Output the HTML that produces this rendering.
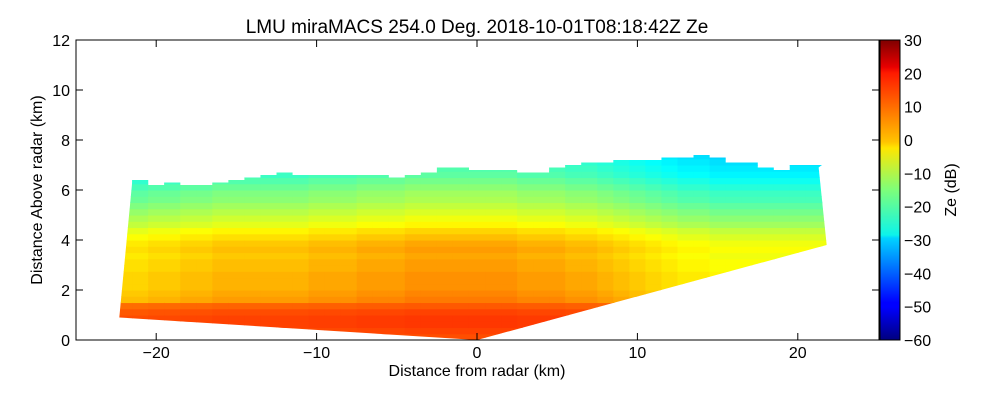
<!DOCTYPE html>
<html><head><meta charset="utf-8"><style>
body{margin:0;background:#fff;}
svg text{font-family:"Liberation Sans",sans-serif;fill:#000;}
</style></head><body>
<svg id="chart" width="1000" height="400" xmlns="http://www.w3.org/2000/svg">
<defs><clipPath id="scanClip"><polygon id="clipPoly"/></clipPath>
<linearGradient id="jetGrad" x1="0" y1="1" x2="0" y2="0">
<stop offset="0" stop-color="#00007f"/><stop offset="0.11" stop-color="#0000ff"/><stop offset="0.125" stop-color="#0000ff"/><stop offset="0.34" stop-color="#00d4ff"/><stop offset="0.35" stop-color="#0cf4eb"/><stop offset="0.5" stop-color="#7dff7a"/><stop offset="0.64" stop-color="#ffe600"/><stop offset="0.66" stop-color="#ffc400"/><stop offset="0.89" stop-color="#ff1a00"/><stop offset="0.91" stop-color="#e80000"/><stop offset="1" stop-color="#7f0000"/></linearGradient></defs>
<g id="cells" clip-path="url(#scanClip)"></g>
<rect x="76" y="40" width="803" height="300" fill="none" stroke="#000"/>
<g id="axes"></g>
<rect x="880" y="40" width="20" height="300" fill="url(#jetGrad)" stroke="#000"/>
<text x="477" y="33" font-size="19" text-anchor="middle">LMU miraMACS 254.0 Deg. 2018-10-01T08:18:42Z  Ze</text>
<text x="477" y="376" font-size="16" text-anchor="middle">Distance from radar (km)</text>
<text transform="translate(42,190) rotate(-90)" font-size="16" text-anchor="middle">Distance Above radar  (km)</text>
<text transform="translate(956,190) rotate(-90)" font-size="16" text-anchor="middle">Ze (dB)</text>
</svg>
<script>
const xTicks=[-20,-10,0,10,20];
const yTicks=[0,2,4,6,8,10,12];
const cTicks=[-60,-50,-40,-30,-20,-10,0,10,20,30];
const colDist=[-22,-21,-20,-19,-18,-17,-16,-15,-14,-13,-12,-11,-10,-9,-8,-7,-6,-5,-4,-3,-2,-1,0,1,2,3,4,5,6,7,8,9,10,11,12,13,14,15,16,17,18,19,20,21,22];
const colTop=[6.3,6.4,6.2,6.3,6.2,6.2,6.3,6.4,6.5,6.6,6.7,6.6,6.6,6.6,6.6,6.6,6.6,6.5,6.6,6.7,6.9,6.9,6.8,6.8,6.8,6.7,6.7,6.9,7.0,7.1,7.1,7.2,7.2,7.2,7.3,7.3,7.4,7.3,7.1,7.1,6.9,6.8,7.0,7.0,6.9];
const colOffset=[-3,-3,-2,-2,-1,-1,0,0,0,0,0,0,1,1,1,2,2,2,3,3,3,3,3,3,3,2,2,2,1,1,0,-1,-2,-3,-4,-5,-5,-6,-6,-6,-6,-6,-6,-6,-6];
const rowHeight=[0,0.25,0.5,0.75,1,1.25,1.5,1.75,2,2.25,2.5,2.75,3,3.25,3.5,3.75,4,4.25,4.5,4.75,5,5.25,5.5,5.75,6,6.25,6.5,6.75,7,7.25];
const rowZe=[11,12,13,13,12,10,5,4,3,3,3,2,2,1,2,1,-1,-3,-6,-8,-10,-12,-14,-15,-17,-19,-21,-22,-23,-24];
const X=v=>477+v*16.04, Y=v=>340-v*25;
function jet(z){let t=(z+60)/90;t=Math.max(0,Math.min(1,t));
 const f=c=>Math.max(0,Math.min(1,1.5-Math.abs(4*t-c)));
 return `rgb(${Math.round(255*f(3))},${Math.round(255*f(2))},${Math.round(255*f(1))})`;}
const NS='http://www.w3.org/2000/svg';
const cells=document.getElementById('cells');
colDist.forEach((d,i)=>{rowHeight.forEach((h,j)=>{
 const r=document.createElementNS(NS,'rect');
 
 
 r.setAttribute('x',X(d-0.5));r.setAttribute('width',16.5);
 r.setAttribute('y',Y(h+0.25));r.setAttribute('height',6.8);
 r.setAttribute('fill',jet(rowZe[j]+(h>1.3?colOffset[i]:colOffset[i]*0.3)));
 cells.appendChild(r);});});
// clip polygon
let pts=[[-22.3,0.9],[0,0],[21.8,3.8],[21.3,colTop[colTop.length-1]]];
for(let i=colDist.length-2;i>=0;i--){pts.push([colDist[i]+0.5,colTop[i]]);pts.push([colDist[i]-0.5,colTop[i]]);}
pts[pts.length-1][0]=-21.5;
document.getElementById('clipPoly').setAttribute('points',pts.map(p=>X(p[0])+','+Y(p[1])).join(' '));
const ax=document.getElementById('axes');
function add(tag,attrs,txt,name){const e=document.createElementNS(NS,tag);for(const k in attrs)e.setAttribute(k,attrs[k]);if(txt!==undefined)e.textContent=txt;
 
 
 ax.appendChild(e);}
xTicks.forEach(v=>{add('line',{x1:X(v),x2:X(v),y1:340,y2:333,stroke:'#000'},undefined,'x-tick');add('line',{x1:X(v),x2:X(v),y1:40,y2:47,stroke:'#000'},undefined,'x-tick-top');
 add('text',{x:X(v),y:358,'font-size':16,'text-anchor':'middle'},v<0?'\u2212'+(-v):v,'x-tick-label');});
yTicks.forEach(v=>{add('line',{x1:76,x2:83,y1:Y(v),y2:Y(v),stroke:'#000'},undefined,'y-tick');add('line',{x1:879,x2:872,y1:Y(v),y2:Y(v),stroke:'#000'},undefined,'y-tick-right');
 add('text',{x:70,y:Y(v)+6,'font-size':16,'text-anchor':'end'},v,'y-tick-label');});
cTicks.forEach(v=>{const y=340-(v+60)/90*300;add('line',{x1:896,x2:900,y1:y,y2:y,stroke:'#000'},undefined,'colorbar-tick');
 add('text',{x:904,y:y+6,'font-size':16},v<0?'\u2212'+(-v):v,'colorbar-tick-label');});
</script>
</body></html>
